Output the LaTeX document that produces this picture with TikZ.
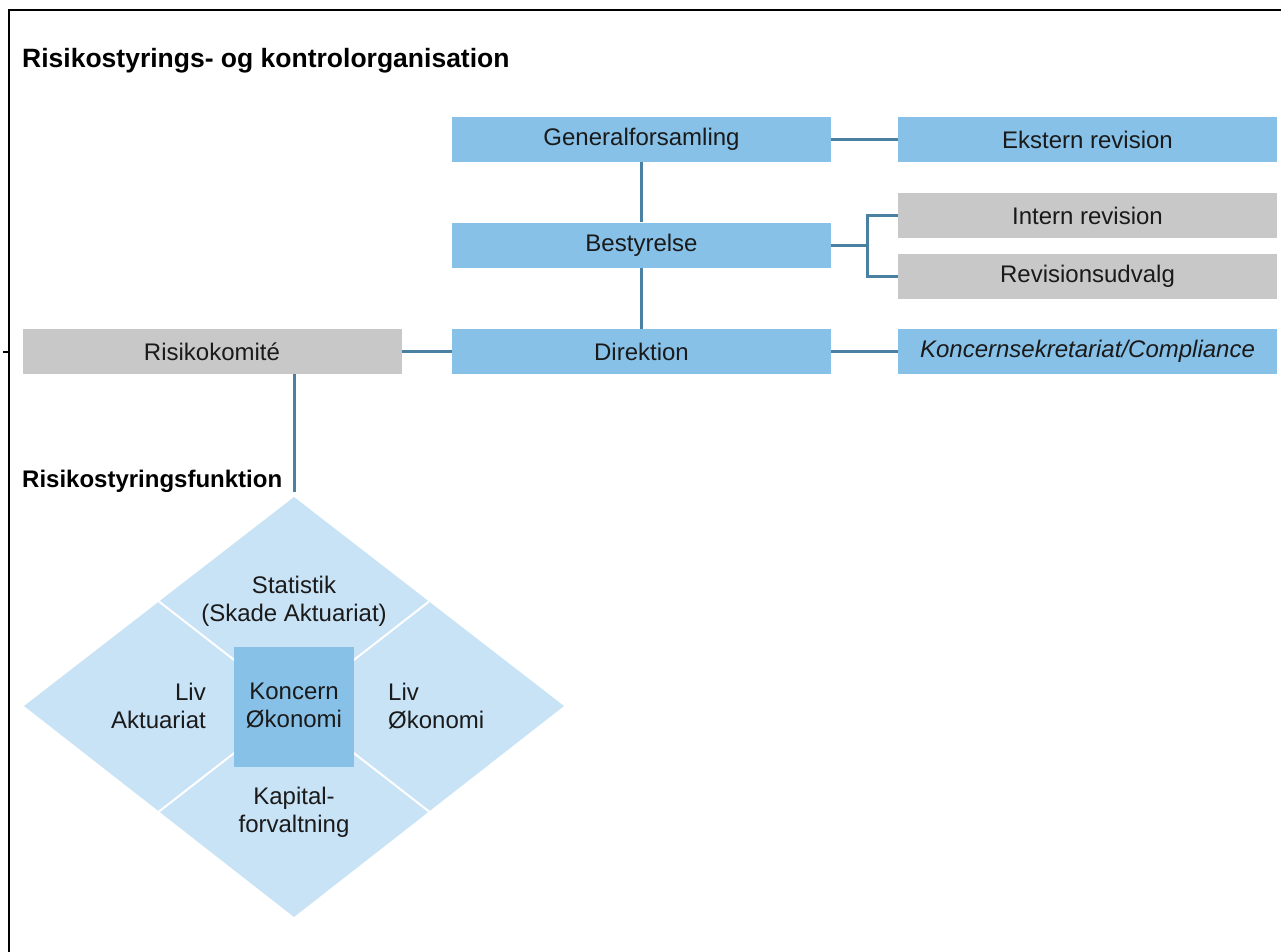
\documentclass[tikz,border=0pt]{standalone}
\usepackage{fontspec}
\setmainfont{Liberation Sans}
\usetikzlibrary{calc}
\definecolor{boxblue}{HTML}{87C1E8}
\definecolor{paleblue}{HTML}{C8E2F6}
\definecolor{boxgray}{HTML}{C8C8C8}
\definecolor{linkblue}{HTML}{4A80A2}
\definecolor{inktext}{HTML}{1A1A1A}
\tikzset{
  orgbox/.style={rectangle, fill=boxblue, minimum width=379pt, minimum height=45pt,
    inner sep=0pt, text=inktext, font=\fontsize{24}{28}\selectfont},
  graybox/.style={orgbox, fill=boxgray},
  link/.style={draw=linkblue, line width=3pt},
  heading/.style={anchor=west, inner sep=0pt, text=black, font=\bfseries},
  celltext/.style={inner sep=0pt, text=inktext, font=\fontsize{24}{28}\selectfont, align=center}
}
\begin{document}
\begin{tikzpicture}[x=1pt, y=-1pt]
\useasboundingbox (0,0) rectangle (1281,952);

% outer frame (left and top edges)
\draw[line width=2pt, black] (8.5,952) -- (8.5,10.5) -- (1281,10.5);
\draw[line width=1.5pt, black] (3,352) -- (8.5,352);

% titles
\node[heading, font=\bfseries\fontsize{26.5}{30}\selectfont] (title) at (22,61) {Risikostyrings- og kontrolorganisation};
\node[heading, font=\bfseries\fontsize{24}{28}\selectfont] (fnlabel) at (22,481) {Risikostyringsfunktion};

% organisation boxes
\node[orgbox] (gf)   at (641.5,139.5) {Generalforsamling};
\node[orgbox] (ext)  at (1087.5,139.5) {Ekstern revision};
\node[orgbox] (best) at (641.5,245) {Bestyrelse};
\node[graybox] (intrev) at (1087.5,215.5) {Intern revision};
\node[graybox] (revud)  at (1087.5,276) {Revisionsudvalg};
\node[graybox] (risk) at (212,351.5) {Risikokomité};
\node[orgbox] (dir)  at (641.5,351.5) {Direktion};
\node[orgbox] (comp) at (1087.5,351.5) {\itshape Koncernsekretariat/Compliance};

% connectors
\draw[link, line width=2.5pt] (gf.east) -- (ext.west);
\draw[link] (gf.south) -- (best.north);
\draw[link] (best.south) -- (dir.north);
\draw[link] (best.east) -- ++(36,0) coordinate (fork);
\draw[link] (intrev.west) -- (intrev.west -| fork) -- (revud.west -| fork) -- (revud.west);
\draw[link] (risk.east) -- (dir.west);
\draw[link] (dir.east) -- (comp.west);

% risk management function diamond
\coordinate (dtop) at (294,497);
\coordinate (dleft) at (24,706);
\coordinate (dright) at (564,706);
\coordinate (dbot) at (294,917);
\coordinate (fnend) at (294,492);
\draw[link] (dtop |- risk.south) -- (fnend);

\fill[paleblue] (dtop) -- (dright) -- (dbot) -- (dleft) -- cycle;
\draw[white, line width=2pt] ($(dtop)!0.5!(dleft)$) -- ($(dright)!0.5!(dbot)$);
\draw[white, line width=2pt] ($(dtop)!0.5!(dright)$) -- ($(dleft)!0.5!(dbot)$);
\node[rectangle, fill=boxblue, minimum width=120pt, minimum height=120pt, inner sep=0pt] (core) at (294,707) {};

\node[celltext] (stat) at (294,601) {Statistik\\(Skade Aktuariat)};
\node[celltext, align=right, anchor=east] (livakt) at (206,706) {Liv\\Aktuariat};
\node[celltext] (kon) at (294,706) {Koncern\\Økonomi};
\node[celltext, align=left, anchor=west] (livok) at (388,706) {Liv\\Økonomi};
\node[celltext] (kap) at (294,812) {Kapital-\\forvaltning};
\end{tikzpicture}
\end{document}
